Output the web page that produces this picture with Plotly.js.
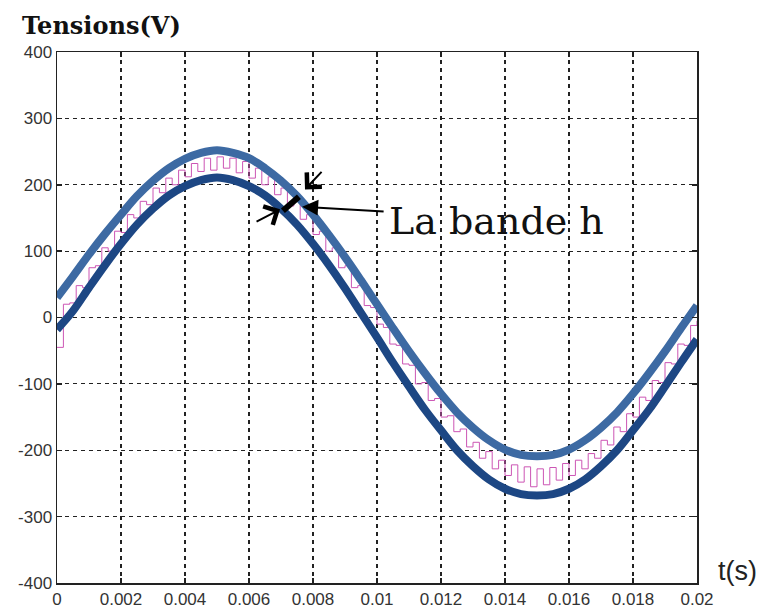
<!DOCTYPE html>
<html>
<head>
<meta charset="utf-8">
<script src="https://cdn.plot.ly/plotly-3.0.1.min.js"></script>
<style>html,body{margin:0;padding:0;background:#fff;}#chart{width:759px;height:613px;}</style>
</head>
<body>
<div id="chart"></div>
<script>
// Time samples for the two band limits (s)
var tBand = [0,0.0005,0.001,0.0015,0.002,0.0025,0.003,0.0035,0.004,0.0045,0.005,0.0055,0.006,0.0065,0.007,0.0075,0.008,0.0085,0.009,0.0095,0.01,0.0105,0.011,0.0115,0.012,0.0125,0.013,0.0135,0.014,0.0145,0.015,0.0155,0.016,0.0165,0.017,0.0175,0.018,0.0185,0.019,0.0195,0.02];
// Upper limit of the hysteresis band (V)
var upperBand = [30,62,95,126,155,183,206,225,239,248,252,248,240,225,206,183,155,124,91,56,20,-16,-51,-84,-115,-143,-166,-185,-199,-207,-209,-207,-199,-185,-166,-143,-115,-84,-51,-16,18];
// Lower limit of the hysteresis band (V)
var lowerBand = [-18,10,45,79,111,140,164,184,198,207,211,207,198,184,164,140,111,79,44,7,-30,-68,-104,-139,-170,-200,-224,-244,-258,-266,-268,-266,-258,-244,-224,-200,-170,-139,-104,-68,-33];
// Switched (stepped) output voltage samples
var tStep = [];
for (var i = 0; i <= 100; i++) { tStep.push(+(i * 0.0002).toFixed(4)); }
var stepVolt = [-45,20,22,48,45,75,78,105,100,130,128,155,150,175,170,195,188,210,200,222,212,232,220,240,222,242,225,240,218,235,210,225,200,212,185,195,168,178,148,155,125,130,100,105,75,78,45,48,18,15,-10,-15,-40,-42,-70,-72,-100,-98,-125,-122,-150,-148,-172,-168,-195,-188,-212,-202,-228,-215,-238,-222,-248,-225,-255,-228,-252,-226,-245,-220,-238,-215,-228,-205,-212,-185,-192,-165,-172,-145,-150,-120,-125,-95,-98,-68,-70,-40,-42,-12,-5];
// Axis ticks
var xTicks = [0,0.002,0.004,0.006,0.008,0.01,0.012,0.014,0.016,0.018,0.02];
var xTickLabels = ['0','0.002','0.004','0.006','0.008','0.01','0.012','0.014','0.016','0.018','0.02'];
var yTicks = [-400,-300,-200,-100,0,100,200,300,400];
var yTickLabels = ['-400','-300','-200','-100','0','100','200','300','400'];

var traces = [
  {x: tStep, y: stepVolt, mode: 'lines', line: {shape: 'hv', color: '#cc55b4', width: 1}, hoverinfo: 'skip'},
  {x: tBand, y: upperBand, mode: 'lines', line: {shape: 'spline', color: '#3d6aa3', width: 8}, hoverinfo: 'skip'},
  {x: tBand, y: lowerBand, mode: 'lines', line: {shape: 'spline', color: '#1d4784', width: 8}, hoverinfo: 'skip'}
];

var axisCommon = {
  showline: true, linecolor: '#222', linewidth: 1.5, mirror: 'ticks',
  ticks: 'inside', ticklen: 5, tickcolor: '#222', tickwidth: 1.5,
  showgrid: true, gridcolor: '#222', gridwidth: 1.2, griddash: '4px,4px',
  zeroline: false, fixedrange: true,
  tickfont: {family: 'Liberation Sans, Arial, sans-serif', size: 17, color: '#333'}
};

var layout = {
  width: 759, height: 613,
  margin: {l: 57, r: 62, t: 52, b: 30},
  paper_bgcolor: '#fff', plot_bgcolor: '#fff',
  showlegend: false,
  title: {text: 'Tensions(V)', xref: 'container', yref: 'container', x: 0.029, xanchor: 'left', y: 0.958, yanchor: 'middle',
          font: {family: 'DejaVu Serif, serif', size: 24, color: '#111', weight: 'bold'}},
  xaxis: Object.assign({}, axisCommon, {range: [0, 0.02], tickvals: xTicks, ticktext: xTickLabels}),
  yaxis: Object.assign({}, axisCommon, {range: [-400, 400], tickvals: yTicks, ticktext: yTickLabels}),
  shapes: [
    {type: 'line', xref: 'x', yref: 'y', x0: 0.00706, y0: 161, x1: 0.00756, y1: 182, line: {color: '#000', width: 6}}
  ],
  annotations: [
    {text: 'La bande h', xref: 'x', yref: 'y', x: 0.0103, y: 145, xanchor: 'left', yanchor: 'middle', showarrow: false,
     font: {family: 'DejaVu Serif, serif', size: 38, color: '#111'}},
    {text: '', xref: 'x', yref: 'y', x: 0.00766, y: 167, ax: 83, ay: 5, showarrow: true, arrowhead: 2, arrowsize: 1.6, arrowwidth: 2, arrowcolor: '#000'},
    {text: '', xref: 'x', yref: 'y', x: 0.00775, y: 193, ax: 18, ay: -19, showarrow: true, arrowhead: 4, arrowsize: 2, arrowwidth: 2, arrowcolor: '#000'},
    {text: '', xref: 'x', yref: 'y', x: 0.00697, y: 163, ax: -25, ay: 13, showarrow: true, arrowhead: 4, arrowsize: 2, arrowwidth: 2, arrowcolor: '#000'},
    {text: 't(s)', xref: 'paper', yref: 'paper', x: 1.03, y: 0.023, xanchor: 'left', yanchor: 'middle', showarrow: false,
     font: {family: 'Liberation Sans, Arial, sans-serif', size: 27, color: '#222'}}
  ]
};

Plotly.newPlot('chart', traces, layout, {displayModeBar: false, staticPlot: true});
</script>
</body>
</html>
